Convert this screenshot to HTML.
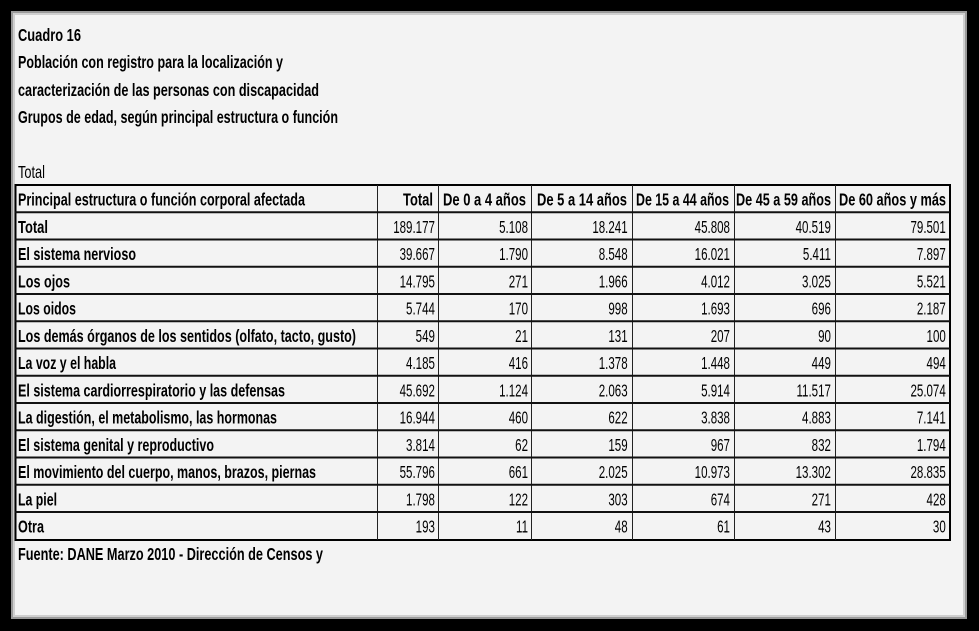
<!DOCTYPE html>
<html><head><meta charset="utf-8"><style>
html,body{margin:0;padding:0;background:#000;}
svg{display:block}
text{font-family:"Liberation Sans Narrow","Liberation Sans",sans-serif;font-size:17.5px;fill:#000}
.b{font-weight:bold}
.r{text-anchor:end}
</style></head><body>
<svg width="979" height="631" xmlns="http://www.w3.org/2000/svg">
<rect x="0" y="0" width="979" height="631" fill="#000"/>
<rect x="11" y="11" width="956" height="608" fill="#9a9a9a"/>
<rect x="13" y="13" width="952" height="604" fill="#cfcfcf"/>
<rect x="15" y="15" width="948" height="600" fill="#f3f3f3"/>
<text class="b" x="18" y="41" textLength="63" lengthAdjust="spacingAndGlyphs">Cuadro 16</text>
<text class="b" x="18" y="68" textLength="265" lengthAdjust="spacingAndGlyphs">Población con registro para la localización y</text>
<text class="b" x="18" y="96" textLength="301" lengthAdjust="spacingAndGlyphs">caracterización de las personas con discapacidad</text>
<text class="b" x="18" y="123" textLength="320" lengthAdjust="spacingAndGlyphs">Grupos de edad, según principal estructura o función</text>
<text x="18" y="178" textLength="27" lengthAdjust="spacingAndGlyphs" fill="#333">Total</text>
<rect x="15.5" y="185" width="934.5" height="355" stroke="#000" stroke-width="2" fill="none"/>
<g stroke="#222" stroke-width="1">
<line x1="377.5" y1="185" x2="377.5" y2="540"/>
<line x1="438.5" y1="185" x2="438.5" y2="540"/>
<line x1="531.5" y1="185" x2="531.5" y2="540"/>
<line x1="632.5" y1="185" x2="632.5" y2="540"/>
<line x1="734.5" y1="185" x2="734.5" y2="540"/>
<line x1="835.5" y1="185" x2="835.5" y2="540"/>
</g>
<g stroke="#111" stroke-width="2">
<line x1="15" x2="950" y1="212.3" y2="212.3"/>
<line x1="15" x2="950" y1="239.5" y2="239.5"/>
<line x1="15" x2="950" y1="266.8" y2="266.8"/>
<line x1="15" x2="950" y1="294" y2="294"/>
<line x1="15" x2="950" y1="321.3" y2="321.3"/>
<line x1="15" x2="950" y1="348.5" y2="348.5"/>
<line x1="15" x2="950" y1="375.8" y2="375.8"/>
<line x1="15" x2="950" y1="403" y2="403"/>
<line x1="15" x2="950" y1="430.3" y2="430.3"/>
<line x1="15" x2="950" y1="457.5" y2="457.5"/>
<line x1="15" x2="950" y1="484.8" y2="484.8"/>
<line x1="15" x2="950" y1="512" y2="512"/>
</g>
<g class="b">
<text class="b" x="18" y="205.5" textLength="287" lengthAdjust="spacingAndGlyphs">Principal estructura o función corporal afectada</text>
<text class="b" x="18" y="232.8" textLength="30" lengthAdjust="spacingAndGlyphs">Total</text>
<text class="b" x="18" y="260" textLength="118" lengthAdjust="spacingAndGlyphs">El sistema nervioso</text>
<text class="b" x="18" y="287.3" textLength="52" lengthAdjust="spacingAndGlyphs">Los ojos</text>
<text class="b" x="18" y="314.5" textLength="58" lengthAdjust="spacingAndGlyphs">Los oidos</text>
<text class="b" x="18" y="341.8" textLength="338" lengthAdjust="spacingAndGlyphs">Los demás órganos de los sentidos (olfato, tacto, gusto)</text>
<text class="b" x="18" y="369" textLength="98" lengthAdjust="spacingAndGlyphs">La voz y el habla</text>
<text class="b" x="18" y="396.3" textLength="267" lengthAdjust="spacingAndGlyphs">El sistema cardiorrespiratorio y las defensas</text>
<text class="b" x="18" y="423.5" textLength="259" lengthAdjust="spacingAndGlyphs">La digestión, el metabolismo, las hormonas</text>
<text class="b" x="18" y="450.8" textLength="196" lengthAdjust="spacingAndGlyphs">El sistema genital y reproductivo</text>
<text class="b" x="18" y="478" textLength="298" lengthAdjust="spacingAndGlyphs">El movimiento del cuerpo, manos, brazos, piernas</text>
<text class="b" x="18" y="505.3" textLength="39" lengthAdjust="spacingAndGlyphs">La piel</text>
<text class="b" x="18" y="532.5" textLength="26" lengthAdjust="spacingAndGlyphs">Otra</text>
<text class="b r" x="433" y="205.5" textLength="30" lengthAdjust="spacingAndGlyphs">Total</text>
<text class="b r" x="526" y="205.5" textLength="83" lengthAdjust="spacingAndGlyphs">De 0 a 4 años</text>
<text class="b r" x="627" y="205.5" textLength="90" lengthAdjust="spacingAndGlyphs">De 5 a 14 años</text>
<text class="b r" x="729" y="205.5" textLength="93" lengthAdjust="spacingAndGlyphs">De 15 a 44 años</text>
<text class="b r" x="831" y="205.5" textLength="95" lengthAdjust="spacingAndGlyphs">De 45 a 59 años</text>
<text class="b r" x="946" y="205.5" textLength="107" lengthAdjust="spacingAndGlyphs">De 60 años y más</text>
</g>
<g transform="scale(0.66,1)" style="font-size:18px">
<text class="r" x="659" y="232.8">189.177</text><text class="r" x="800" y="232.8">5.108</text><text class="r" x="951" y="232.8">18.241</text><text class="r" x="1106" y="232.8">45.808</text><text class="r" x="1259" y="232.8">40.519</text><text class="r" x="1433" y="232.8">79.501</text>
<text class="r" x="659" y="260">39.667</text><text class="r" x="800" y="260">1.790</text><text class="r" x="951" y="260">8.548</text><text class="r" x="1106" y="260">16.021</text><text class="r" x="1259" y="260">5.411</text><text class="r" x="1433" y="260">7.897</text>
<text class="r" x="659" y="287.3">14.795</text><text class="r" x="800" y="287.3">271</text><text class="r" x="951" y="287.3">1.966</text><text class="r" x="1106" y="287.3">4.012</text><text class="r" x="1259" y="287.3">3.025</text><text class="r" x="1433" y="287.3">5.521</text>
<text class="r" x="659" y="314.5">5.744</text><text class="r" x="800" y="314.5">170</text><text class="r" x="951" y="314.5">998</text><text class="r" x="1106" y="314.5">1.693</text><text class="r" x="1259" y="314.5">696</text><text class="r" x="1433" y="314.5">2.187</text>
<text class="r" x="659" y="341.8">549</text><text class="r" x="800" y="341.8">21</text><text class="r" x="951" y="341.8">131</text><text class="r" x="1106" y="341.8">207</text><text class="r" x="1259" y="341.8">90</text><text class="r" x="1433" y="341.8">100</text>
<text class="r" x="659" y="369">4.185</text><text class="r" x="800" y="369">416</text><text class="r" x="951" y="369">1.378</text><text class="r" x="1106" y="369">1.448</text><text class="r" x="1259" y="369">449</text><text class="r" x="1433" y="369">494</text>
<text class="r" x="659" y="396.3">45.692</text><text class="r" x="800" y="396.3">1.124</text><text class="r" x="951" y="396.3">2.063</text><text class="r" x="1106" y="396.3">5.914</text><text class="r" x="1259" y="396.3">11.517</text><text class="r" x="1433" y="396.3">25.074</text>
<text class="r" x="659" y="423.5">16.944</text><text class="r" x="800" y="423.5">460</text><text class="r" x="951" y="423.5">622</text><text class="r" x="1106" y="423.5">3.838</text><text class="r" x="1259" y="423.5">4.883</text><text class="r" x="1433" y="423.5">7.141</text>
<text class="r" x="659" y="450.8">3.814</text><text class="r" x="800" y="450.8">62</text><text class="r" x="951" y="450.8">159</text><text class="r" x="1106" y="450.8">967</text><text class="r" x="1259" y="450.8">832</text><text class="r" x="1433" y="450.8">1.794</text>
<text class="r" x="659" y="478">55.796</text><text class="r" x="800" y="478">661</text><text class="r" x="951" y="478">2.025</text><text class="r" x="1106" y="478">10.973</text><text class="r" x="1259" y="478">13.302</text><text class="r" x="1433" y="478">28.835</text>
<text class="r" x="659" y="505.3">1.798</text><text class="r" x="800" y="505.3">122</text><text class="r" x="951" y="505.3">303</text><text class="r" x="1106" y="505.3">674</text><text class="r" x="1259" y="505.3">271</text><text class="r" x="1433" y="505.3">428</text>
<text class="r" x="659" y="532.5">193</text><text class="r" x="800" y="532.5">11</text><text class="r" x="951" y="532.5">48</text><text class="r" x="1106" y="532.5">61</text><text class="r" x="1259" y="532.5">43</text><text class="r" x="1433" y="532.5">30</text>
</g>
<text class="b" x="18" y="560" textLength="305" lengthAdjust="spacingAndGlyphs">Fuente: DANE Marzo 2010 - Dirección de Censos y</text>
</svg>
</body></html>
